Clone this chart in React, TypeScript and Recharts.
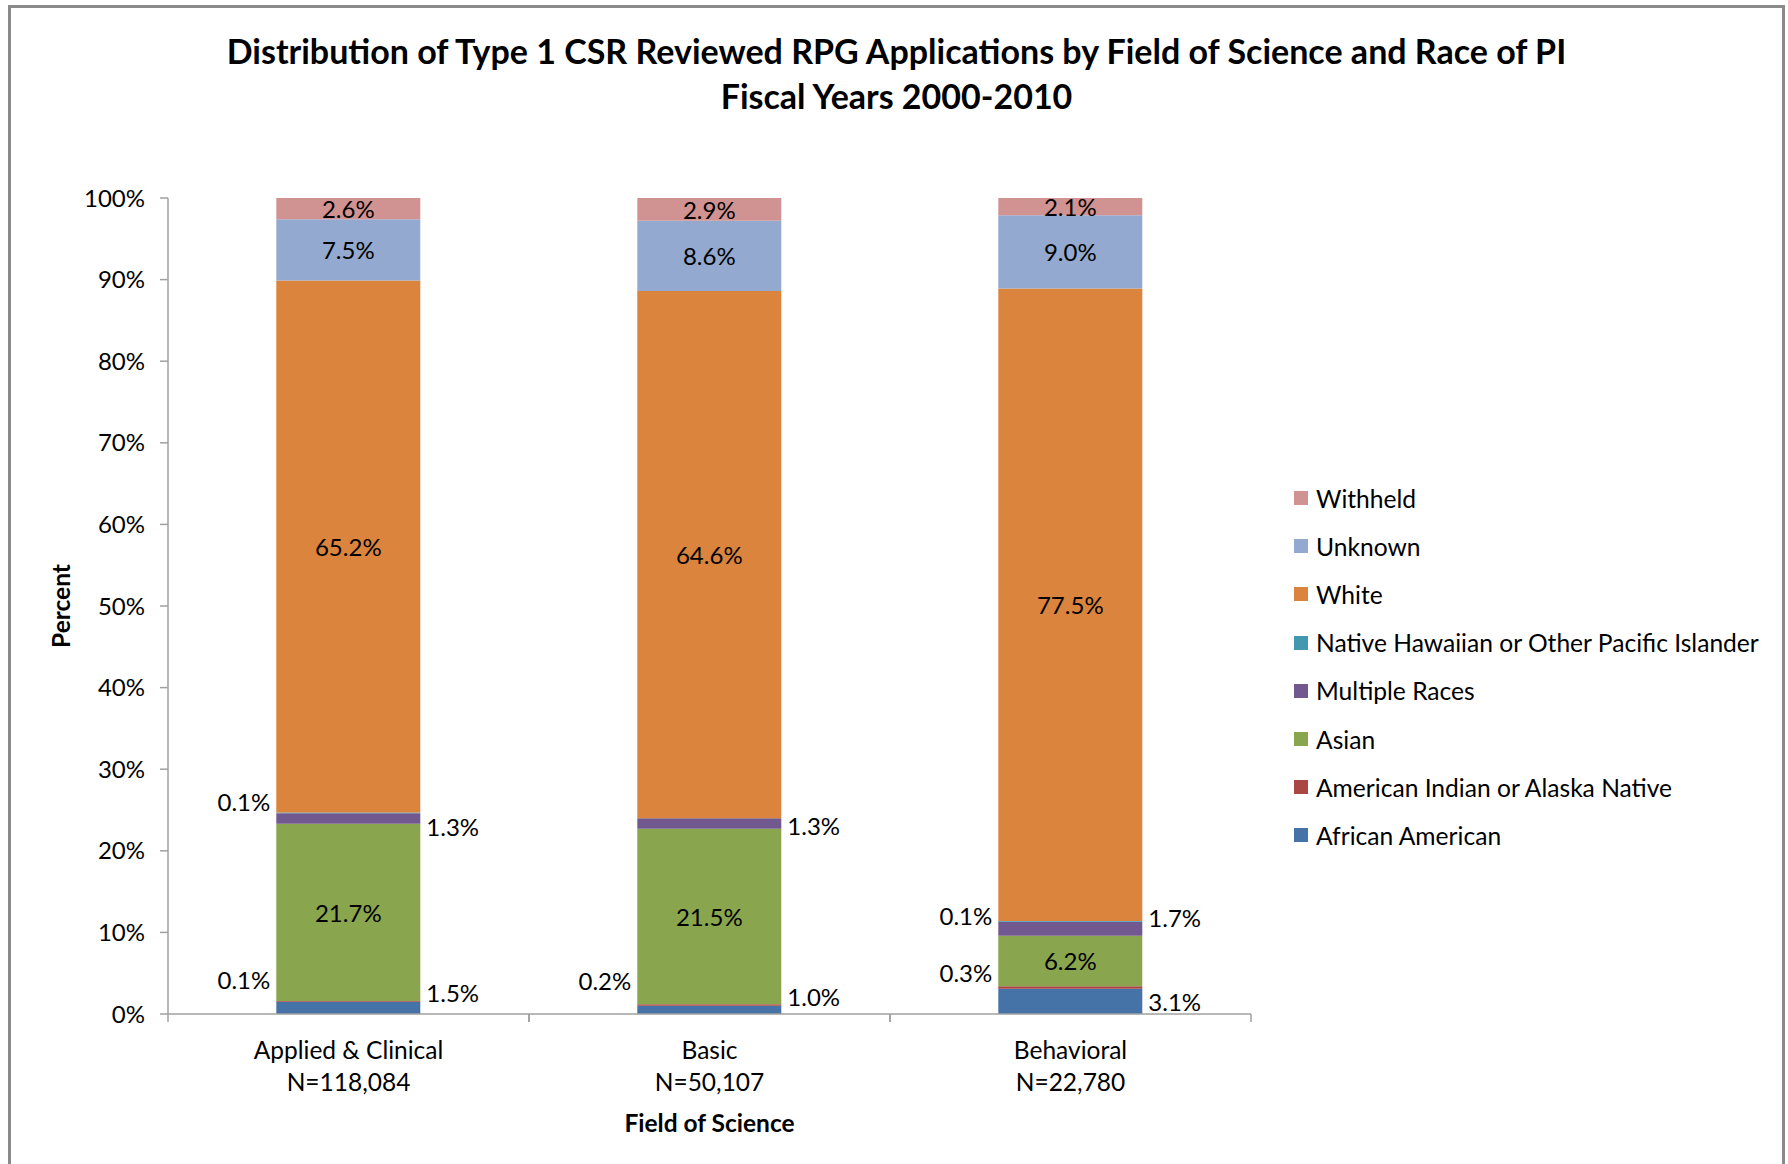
import React from 'react';
import { BarChart, Bar, XAxis, YAxis, Legend, LabelList } from 'recharts';

// ---- Data (percent of applications) ----
const CATEGORIES = ['Applied & Clinical', 'Basic', 'Behavioral'];
const SAMPLE_SIZES = ['N=118,084', 'N=50,107', 'N=22,780'];
const AFRICAN_AMERICAN = [1.5, 1.0, 3.1];
const AMERICAN_INDIAN = [0.1, 0.2, 0.3];
const ASIAN = [21.7, 21.5, 6.2];
const MULTIPLE_RACES = [1.3, 1.3, 1.7];
const NATIVE_HAWAIIAN = [0.1, 0.0, 0.1];
const WHITE = [65.2, 64.6, 77.5];
const UNKNOWN = [7.5, 8.6, 9.0];
const WITHHELD = [2.6, 2.9, 2.1];
const Y_TICKS = [0, 10, 20, 30, 40, 50, 60, 70, 80, 90, 100];

const FONT = 'Lato, "Open Sans", sans-serif';

type Place = 'center' | 'left' | 'right';
interface SeriesDef {
  key: string;
  name: string;
  values: number[];
  color: string;
  place: Place;
  nudge: number[]; // vertical label nudge (px) per category – styling only
}

const SERIES: SeriesDef[] = [
  { key: 'aa', name: 'African American', values: AFRICAN_AMERICAN, color: '#4572A7', place: 'right', nudge: [-15, -13, 0] },
  { key: 'aian', name: 'American Indian or Alaska Native', values: AMERICAN_INDIAN, color: '#AA4643', place: 'left', nudge: [-22, -25, -15] },
  { key: 'asian', name: 'Asian', values: ASIAN, color: '#89A54E', place: 'center', nudge: [0, 0, 0] },
  { key: 'multi', name: 'Multiple Races', values: MULTIPLE_RACES, color: '#71588F', place: 'right', nudge: [8, 2, -11] },
  { key: 'nhpi', name: 'Native Hawaiian or Other Pacific Islander', values: NATIVE_HAWAIIAN, color: '#4198AF', place: 'left', nudge: [-11, -6, -10] },
  { key: 'white', name: 'White', values: WHITE, color: '#DB843D', place: 'center', nudge: [0, 0, 0] },
  { key: 'unknown', name: 'Unknown', values: UNKNOWN, color: '#93A9CF', place: 'center', nudge: [0, 0, 0] },
  { key: 'withheld', name: 'Withheld', values: WITHHELD, color: '#D19392', place: 'center', nudge: [0, 0, 0] },
];

const DATA = CATEGORIES.map((c, i) => {
  const row: Record<string, any> = { category: c, n: SAMPLE_SIZES[i] };
  SERIES.forEach((s) => {
    row[s.key] = s.values[i];
  });
  return row;
});

const AXIS_COLOR = '#a0a0a0';

const makeLabel = (s: SeriesDef) => (props: any) => {
  const { x, y, width, height, value, index } = props;
  if (value === undefined || value === null) return null;
  const xx = Number(x);
  const yy = Number(y);
  const w = Number(width);
  const h = Number(height) || 0;
  const idx = typeof index === 'number' ? index : 0;
  const cy = yy + h / 2 + (s.nudge[idx] ?? 0);
  let tx = xx + w / 2;
  let anchor: 'middle' | 'start' | 'end' = 'middle';
  if (s.place === 'left') {
    tx = xx - 6;
    anchor = 'end';
  } else if (s.place === 'right') {
    tx = xx + w + 6;
    anchor = 'start';
  }
  return (
    <text
      x={tx}
      y={cy}
      textAnchor={anchor}
      dominantBaseline="central"
      fontSize={24}
      fontFamily={FONT}
      fill="#000"
    >
      {Number(value).toFixed(1)}%
    </text>
  );
};

const CategoryTick = (props: any) => {
  const { x, y, payload, index, width } = props;
  const band = (Number(width) || 1083) / CATEGORIES.length;
  const n = SAMPLE_SIZES[CATEGORIES.indexOf(payload.value)] ?? SAMPLE_SIZES[index];
  return (
    <g>
      <line x1={x - band / 2} y1={y} x2={x - band / 2} y2={y + 8} stroke={AXIS_COLOR} strokeWidth={1.5} />
      <line x1={x + band / 2} y1={y} x2={x + band / 2} y2={y + 8} stroke={AXIS_COLOR} strokeWidth={1.5} />
      <text x={x} y={y + 35} textAnchor="middle" dominantBaseline="central" fontSize={24.5} fontFamily={FONT} fill="#000">
        {payload.value}
      </text>
      <text x={x} y={y + 67} textAnchor="middle" dominantBaseline="central" fontSize={24.5} fontFamily={FONT} fill="#000">
        {n}
      </text>
    </g>
  );
};

const LegendContent = () => (
  <div style={{ fontFamily: FONT, fontSize: 24.6, color: '#000' }}>
    {[...SERIES].reverse().map((s) => (
      <div key={s.key} style={{ display: 'flex', alignItems: 'center', height: 48.2, whiteSpace: 'nowrap' }}>
        <span style={{ display: 'inline-block', width: 14, height: 14, background: s.color, marginRight: 8 }} />
        <span>{s.name}</span>
      </div>
    ))}
  </div>
);

export default function App() {
  return (
    <div
      style={{
        position: 'absolute',
        left: 0,
        top: 0,
        width: 1788,
        height: 1164,
        overflow: 'hidden',
        background: '#fff',
        fontFamily: FONT,
      }}
    >
      <div
        style={{
          position: 'absolute',
          left: 8,
          top: 5,
          width: 1777,
          height: 1300,
          border: '3px solid #8a8a8a',
          boxSizing: 'border-box',
        }}
      />
      <div
        style={{
          position: 'absolute',
          left: 8,
          width: 1777,
          top: 28,
          textAlign: 'center',
          fontWeight: 700,
          fontSize: 34,
          lineHeight: '45px',
          color: '#000',
        }}
      >
        <div>Distribution of Type 1 CSR Reviewed RPG Applications by Field of Science and Race of PI</div>
        <div>Fiscal Years 2000-2010</div>
      </div>
      <div style={{ position: 'absolute', left: 0, top: 0 }}>
        <BarChart
          width={1788}
          height={1164}
          data={DATA}
          margin={{ top: 198, right: 537, left: 0, bottom: 0 }}
          barCategoryGap="30%"
        >
          <XAxis
            dataKey="category"
            height={150}
            tickLine={false}
            tickSize={0}
            tickMargin={0}
            axisLine={{ stroke: AXIS_COLOR, strokeWidth: 1.5 }}
            tick={<CategoryTick />}
            interval={0}
            label={{
              content: (p: any) => {
                const vb = p.viewBox || { x: 168, y: 1014, width: 1083, height: 150 };
                return (
                  <text
                    x={vb.x + vb.width / 2}
                    y={vb.y + 108}
                    textAnchor="middle"
                    dominantBaseline="central"
                    fontSize={24.5}
                    fontWeight={700}
                    fontFamily={FONT}
                    fill="#000"
                  >
                    Field of Science
                  </text>
                );
              },
            }}
          />
          <YAxis
            width={168}
            domain={[0, 100]}
            ticks={Y_TICKS}
            allowDataOverflow
            tickFormatter={(v: number) => `${v}%`}
            tickSize={8}
            tickMargin={15}
            tickLine={{ stroke: AXIS_COLOR, strokeWidth: 1.5 }}
            axisLine={{ stroke: AXIS_COLOR, strokeWidth: 1.5 }}
            tick={{ fontSize: 24, fontFamily: FONT, fill: '#000' }}
            label={{
              content: (p: any) => {
                const vb = p.viewBox || { x: 0, y: 198, width: 168, height: 816 };
                const cx = vb.x + 60;
                const cy = vb.y + vb.height / 2;
                return (
                  <text
                    x={cx}
                    y={cy}
                    transform={`rotate(-90, ${cx}, ${cy})`}
                    textAnchor="middle"
                    dominantBaseline="central"
                    fontSize={24.5}
                    fontWeight={700}
                    fontFamily={FONT}
                    fill="#000"
                  >
                    Percent
                  </text>
                );
              },
            }}
          />
          <Legend
            layout="vertical"
            align="center"
            verticalAlign="middle"
            wrapperStyle={{ left: 1294, top: 474, width: 480 }}
            content={<LegendContent />}
          />
          {SERIES.map((s) => (
            <Bar key={s.key} dataKey={s.key} name={s.name} stackId="a" fill={s.color} isAnimationActive={false}>
              <LabelList dataKey={s.key} content={makeLabel(s)} />
            </Bar>
          ))}
        </BarChart>
      </div>
    </div>
  );
}
